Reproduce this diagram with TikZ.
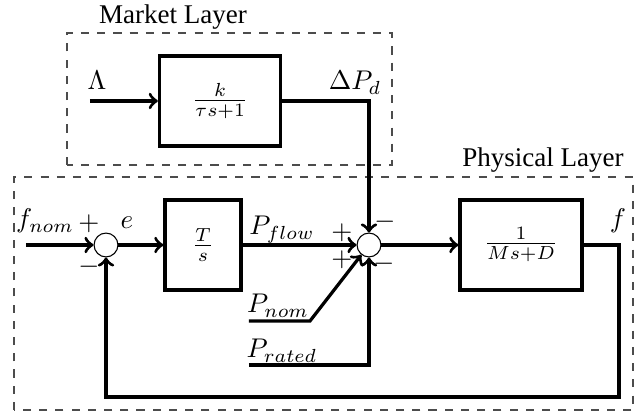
\documentclass[tikz,border=0pt]{standalone}
\usepackage[no-math]{fontspec}
\setmainfont{Liberation Serif}

\begin{document}
\begin{tikzpicture}[line width=1.2pt,
    bloque/.style={draw, rectangle, minimum height=1.17cm},
    sumador/.style={draw, circle, line width=0.4pt, minimum size=0.31cm, inner sep=0pt},
    capa/.style={draw=black!70, dashed, line width=0.4pt}]
  \useasboundingbox (0,0) rectangle (8.372,5.382);
  % capa de mercado
  \draw[capa] (0.871,3.237) rectangle (5.096,4.953);
  \node at (2.249,5.161) {Market Layer};
  \node[bloque, minimum width=1.573cm] (mkt) at (2.86,4.069) {$\frac{k}{\tau s+1}$};
  \coordinate (lam) at (1.17,4.069);
  \coordinate (dpd) at (4.797,4.069);
  \draw[->] (lam) -- (mkt);
  \node[anchor=base] at (1.261,4.212) {$\Lambda$};
  \node[anchor=base] at (4.615,4.212) {$\Delta P_d$};
  % capa fisica
  \draw[capa] (0.182,0.052) rectangle (8.229,3.081);
  \node at (7.059,3.302) {Physical Layer};
  \node[sumador] (s1) at (1.378,2.197) {};
  \node[bloque, minimum width=0.988cm] (ts) at (2.639,2.197) {$\frac{T}{s}$};
  \node[sumador] (s2) at (4.797,2.197) {};
  \node[bloque, minimum width=1.586cm] (planta) at (6.773,2.197) {$\frac{1}{Ms+D}$};
  \coordinate (fin) at (0.338,2.197);
  \coordinate (fout) at (8.047,2.197);
  \coordinate (fbr) at (8.047,0.221);
  \coordinate (fbl) at (1.378,0.221);
  \coordinate (pnom) at (3.237,1.209);
  \coordinate (pnomk) at (4.03,1.209);
  \coordinate (prat) at (3.237,0.637);
  \coordinate (pratk) at (4.797,0.637);
  % lazo de frecuencia
  \draw[->] (fin) -- (s1);
  \draw[->] (s1) -- (ts);
  \draw[->] (planta.east) -- (fout) -- (fbr) -- (fbl) -- (s1);
  % entradas del sumador
  \draw[->] (mkt) -- (dpd) -- (s2);
  \draw[->] (ts) -- (s2);
  \draw[->] (pnom) -- (pnomk) -- (s2);
  \draw[->] (prat) -- (pratk) -- (s2);
  \draw[->] (s2) -- (planta);
  % etiquetas
  \node[anchor=base] at (0.585,2.418) {$f_{nom}$};
  \node at (1.157,2.47) {$+$};
  \node at (1.157,1.911) {$-$};
  \node at (1.651,2.483) {$e$};
  \node[anchor=base] at (3.666,2.327) {$P_{flow}$};
  \node[anchor=base] at (3.614,1.313) {$P_{nom}$};
  \node[anchor=base] at (3.666,0.728) {$P_{rated}$};
  \node at (8.034,2.509) {$f$};
  \node at (4.446,2.353) {$+$};
  \node at (4.446,2.002) {$+$};
  \node at (5.005,2.496) {$-$};
  \node at (4.992,1.95) {$-$};
\end{tikzpicture}
\end{document}
